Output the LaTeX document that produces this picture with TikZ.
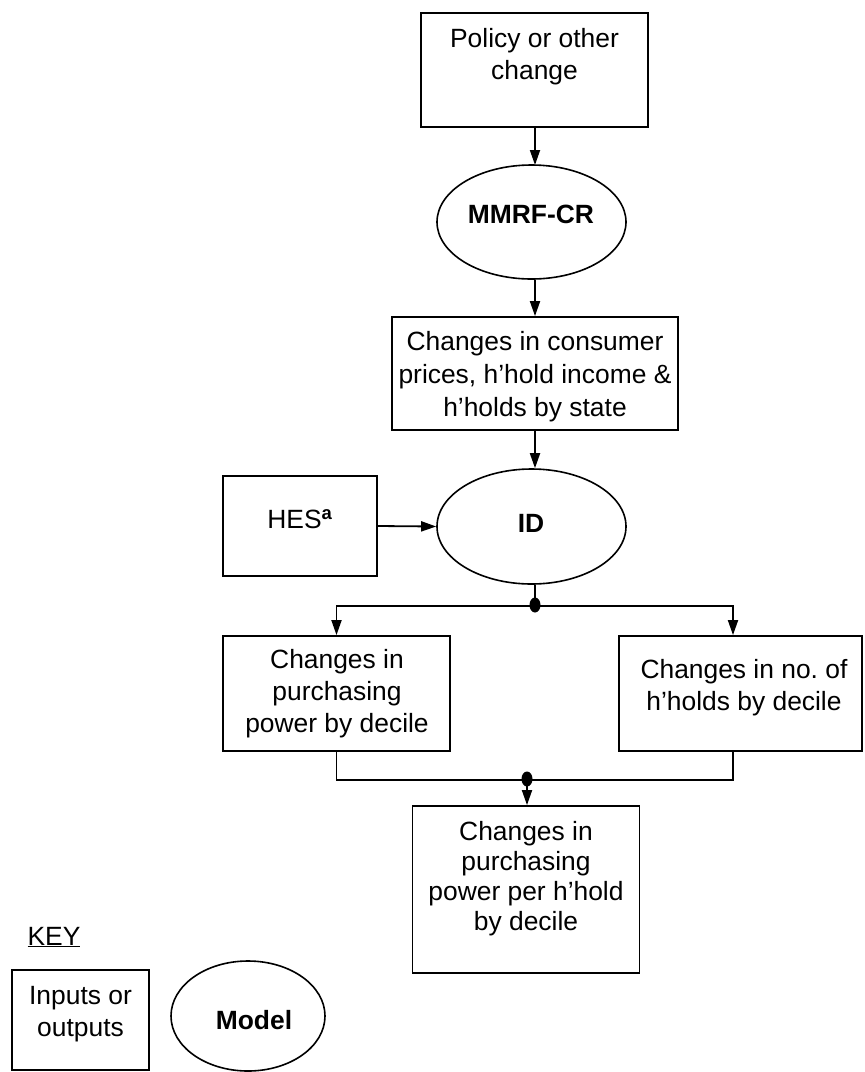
\documentclass[tikz,border=0pt]{standalone}
\usepackage{fontspec}
\setmainfont{Liberation Sans}
\usetikzlibrary{arrows.meta,shapes.geometric}
\frenchspacing
\tikzset{
  box/.style={draw, line width=1.8pt, rectangle, inner sep=0pt},
  oval/.style={draw, line width=1.6pt, ellipse, inner sep=0pt},
  txt/.style={align=center, inner sep=0pt, font=\fontsize{26.4}{32}\selectfont},
  btxt/.style={inner sep=0pt, font=\fontsize{26.4}{32}\selectfont\bfseries},
  conn/.style={line width=1.8pt},
  arr/.style={line width=1.8pt, -{Triangle[length=15pt,width=10pt]}},
  dot/.style={ellipse, fill, inner sep=0pt, minimum width=11pt, minimum height=15pt}
}
\begin{document}
\begin{tikzpicture}[x=1pt,y=-1pt]
\useasboundingbox (0,0) rectangle (865,1072);
% nodes
\node[box, minimum width=227pt, minimum height=114pt] (pol) at (534.5,70) {};
\node[txt] (polt) at (534.5,57) {Policy or other\\change};
\node[oval, minimum width=189pt, minimum height=114pt] (mmrf) at (531.5,222) {};
\node[btxt] (mmrft) at (531,214) {MMRF-CR};
\node[box, minimum width=286pt, minimum height=113pt] (cp) at (535,373.5) {};
\node[txt, font=\fontsize{26.4}{33}\selectfont] (cpt) at (535,377) {Changes in consumer\\prices, h’hold income \&\\h’holds by state};
\node[box, minimum width=154pt, minimum height=100pt] (hes) at (300,526) {};
\node[txt] (hest) at (300,519) {HES\textsuperscript{\textbf{a}}};
\node[oval, minimum width=189pt, minimum height=115pt] (id) at (531.5,526.5) {};
\node[btxt] (idt) at (531,523) {ID};
\node[box, minimum width=227pt, minimum height=115pt] (pp) at (336.5,693.5) {};
\node[txt] (ppt) at (337,694) {Changes in\\purchasing\\power by decile};
\node[box, minimum width=243pt, minimum height=115pt] (nh) at (740.5,693.5) {};
\node[txt] (nht) at (744,688) {Changes in no. of\\h’holds by decile};
\node[box, minimum width=227pt, minimum height=167pt] (out) at (526,889.5) {};
\node[txt, font=\fontsize{26.4}{30}\selectfont] (outt) at (526,879) {Changes in\\purchasing\\power per h’hold\\by decile};
% key
\node[txt] (key) at (54,937) {\underline{KEY}};
\node[box, minimum width=137pt, minimum height=100pt] (kbox) at (80.5,1020) {};
\node[txt] (kboxt) at (80.5,1014) {Inputs or\\outputs};
\node[oval, minimum width=154pt, minimum height=110pt] (kmod) at (248,1016) {};
\node[btxt] (kmodt) at (254,1020) {Model};
% junctions
\coordinate (j1) at (535,606);
\coordinate (j2) at (527,780);
\coordinate (nhin) at ([xshift=-7.5pt]nh.north);
\coordinate (nhout) at ([xshift=-7.5pt]nh.south);
\node[dot] (d1) at (535,605) {};
\node[dot] (d2) at (527,779) {};
% connectors
\draw[arr] (pol.south -| 535,0) -- (535,165);
\draw[arr] (cp.north |- mmrf.south) -- (cp.north);
\draw[arr] (cp.south) -- (cp.south |- id.north);
\draw[arr] (hes.east) -- (id.west);
\draw[conn] (j1 |- id.south) -- (j1);
\draw[arr] (j1) -| (pp.north);
\draw[arr] (j1) -| (nhin);
\draw[conn] (pp.south) -- (pp.south |- j2) -- (nhout |- j2) -- (nhout);
\draw[arr] (j2) -- (j2 |- out.north);
\end{tikzpicture}
\end{document}
